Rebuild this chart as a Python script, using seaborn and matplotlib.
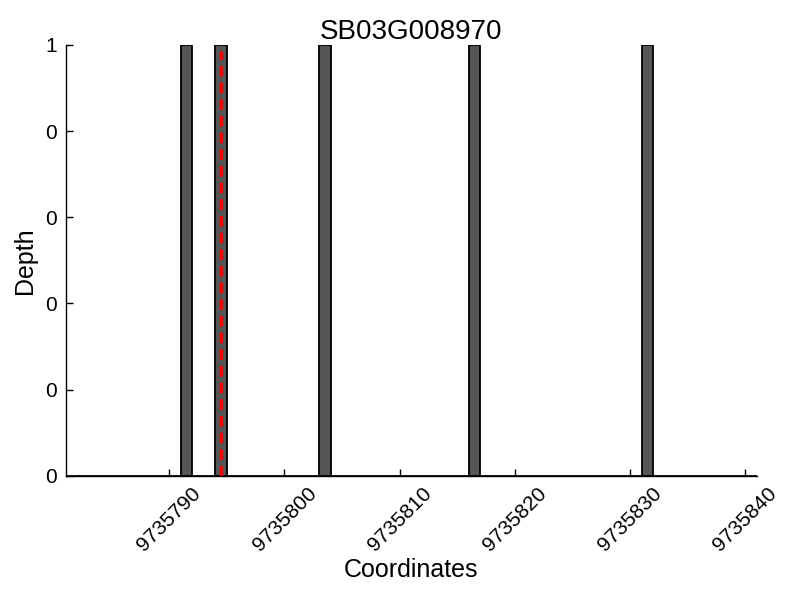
import numpy as np
import pandas as pd
import seaborn as sns
import matplotlib.pyplot as plt
from matplotlib.ticker import FormatStrFormatter

# Coverage data
coords = [9735791, 9735794, 9735803, 9735816, 9735831]
depths = [1, 1, 1, 1, 1]
gene = "SB03G008970"
marker_pos = 9735794.5
xticks = [9735790, 9735800, 9735810, 9735820, 9735830, 9735840]
yticks = [0, 0.2, 0.4, 0.6, 0.8, 1.0]

df = pd.DataFrame({'coord': coords, 'depth': depths})

sns.set_style('white')
plt.rcParams['font.family'] = ['Liberation Sans', 'DejaVu Sans']
plt.rcParams['text.color'] = 'black'
plt.rcParams['axes.labelcolor'] = 'black'

fig = plt.figure(figsize=(8, 6), dpi=100)
ax = fig.add_axes([0.082, 0.207, 0.864, 0.718])

sns.histplot(data=df, x='coord', weights='depth', binwidth=1,
             binrange=(9735781, 9735841), color='#555555',
             edgecolor='black', linewidth=1.3, alpha=1, ax=ax)

ax.axvline(marker_pos, ymin=0, ymax=0.985, color='red', linewidth=2.5,
           linestyle=(0, (3, 1.8)))

ax.set_xlim(9735781, 9735841)
ax.set_ylim(0, 1)
ax.set_xticks(xticks)
ax.set_yticks(yticks)
ax.xaxis.set_major_formatter(FormatStrFormatter('%d'))
ax.yaxis.set_major_formatter(FormatStrFormatter('%d'))
ax.tick_params(bottom=True, left=True, direction='in', length=5, width=1,
               labelsize=15, colors='black', pad=6)
plt.setp(ax.get_xticklabels(), rotation=45)

sns.despine(ax=ax)
for s in ['left', 'bottom']:
    ax.spines[s].set_color('black')
    ax.spines[s].set_linewidth(1)

ax.set_title(gene, fontsize=20, pad=4)
ax.set_xlabel('Coordinates', fontsize=18, labelpad=2)
ax.set_ylabel('Depth', fontsize=18, labelpad=6)

fig.savefig('out.png', dpi=100)
